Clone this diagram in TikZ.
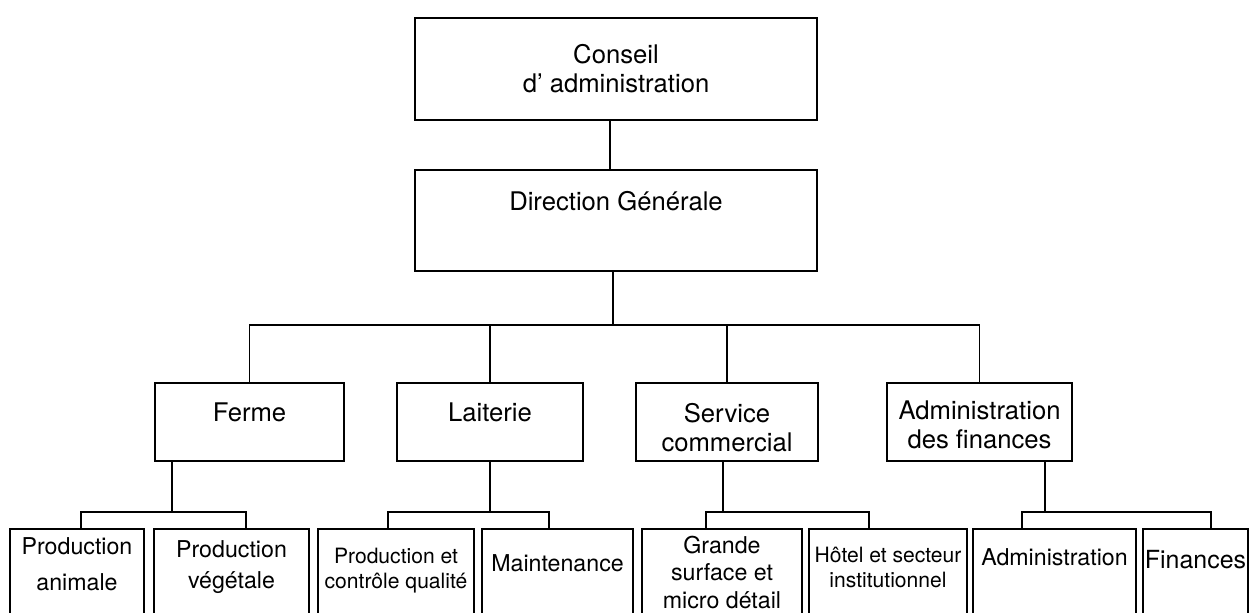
\documentclass[tikz,border=0pt]{standalone}
\usepackage{fontspec}
\setmainfont{TeX Gyre Heros}
\usetikzlibrary{positioning,fit,calc}

\begin{document}
\begin{tikzpicture}[
    x=0.02cm, y=-0.02cm,
    box/.style={draw, line width=1.3pt, inner sep=0pt},
    lbl/.style={font=\fontsize{14.6}{16.5}\selectfont, align=center, inner sep=0pt},
    sub/.style={font=\fontsize{13.2}{15.6}\selectfont, align=center, inner sep=0pt},
    subsm/.style={font=\fontsize{12}{14.2}\selectfont, align=center, inner sep=0pt},
    link/.style={line width=1.05pt}
]
\useasboundingbox (0,0) rectangle (1251,612);
\clip (0,0) rectangle (1251,612);

% ---- top ----
\node[box, fit={(415,18) (817,120)}] (conseil) {};
\node[lbl] (conseilT) at (conseil.center |- 0,68.5) {Conseil\\d' administration};
\node[box, fit={(415,170) (817,271)}] (direction) {};
\node[lbl] (directionT) at (direction.center |- 0,201) {Direction Générale};

% ---- services ----
\node[box, fit={(155,383) (344,461)}] (ferme) {};
\node[lbl] (fermeT) at (ferme.center |- 0,412) {Ferme};
\node[box, fit={(397,383) (583,461)}] (laiterie) {};
\node[lbl] (laiterieT) at (laiterie.center |- 0,412) {Laiterie};
\node[box, fit={(636,383) (818,461)}] (service) {};
\node[lbl] (serviceT) at (service.center |- 0,427.5) {Service\\commercial};
\node[box, fit={(887,383) (1072,461)}] (adminf) {};
\node[lbl] (adminfT) at (adminf.center |- 0,425) {Administration\\des finances};

% ---- sections (cut at the bottom) ----
\node[box, fit={(10,529) (144,640)}] (panim) {};
\node[sub] (panimT) at (panim.center |- 0,564) {Production\\[5pt]animale};
\node[box, fit={(154,529) (309,640)}] (pveg) {};
\node[sub] (pvegT) at (pveg.center |- 0,567) {Production\\[2.5pt]végétale};
\node[box, fit={(318,529) (474,640)}] (pcq) {};
\node[subsm] (pcqT) at (pcq.center |- 0,571) {Production et\\contrôle qualité};
\node[box, fit={(482,529) (633,640)}] (maint) {};
\node[sub] (maintT) at (maint.center |- 0,563) {Maintenance};
\node[box, fit={(642,529) (802,640)}] (grande) {};
\node[sub] (grandeT) at (grande.center |- 0,572.5) {Grande\\surface et\\micro détail};
\node[box, fit={(809,529) (967,640)}] (hotel) {};
\node[subsm] (hotelT) at (hotel.center |- 0,567) {Hôtel et secteur\\institutionnel};
\node[box, fit={(973,529) (1136,640)}] (adm) {};
\node[sub] (admT) at (adm.center |- 0,557) {Administration};
\node[box, fit={(1143,529) (1248,640)}] (fin) {};
\node[sub, font=\fontsize{14.2}{16}\selectfont] (finT) at (fin.center |- 0,560) {Finances};

% Links
\draw[link] ($(conseil.south)+(-6,0)$) -- ($(direction.north)+(-6,0)$);
\draw[link] ($(direction.south)+(-3,0)$) -- ++(0,53) coordinate (mainBus);
\draw[link] (ferme.north) |- (mainBus) -| (adminf.north);
\draw[link] (laiterie.north) -- (laiterie.north |- mainBus);
\draw[link] (service.north) -- (service.north |- mainBus);

\draw[link] ($(ferme.south)+(-77.5,0)$) -- ++(0,50) coordinate (fermeBus);
\draw[link] ($(panim.north)+(4,0)$) |- (fermeBus) -| ($(pveg.north)+(14.5,0)$);
\draw[link] (laiterie.south) -- ++(0,50) coordinate (laiterieBus);
\draw[link] ($(pcq.north)+(-8,0)$) |- (laiterieBus) -| ($(maint.north)+(-8.5,0)$);
\draw[link] ($(service.south)+(-4,0)$) -- ++(0,50) coordinate (serviceBus);
\draw[link] ($(grande.north)+(-16,0)$) |- (serviceBus) -| ($(hotel.north)+(-19,0)$);
\draw[link] ($(adminf.south)+(65.5,0)$) -- ++(0,50) coordinate (adminfBus);
\draw[link] ($(adm.north)+(-32.5,0)$) |- (adminfBus) -| ($(fin.north)+(15.5,0)$);
\end{tikzpicture}
\end{document}
